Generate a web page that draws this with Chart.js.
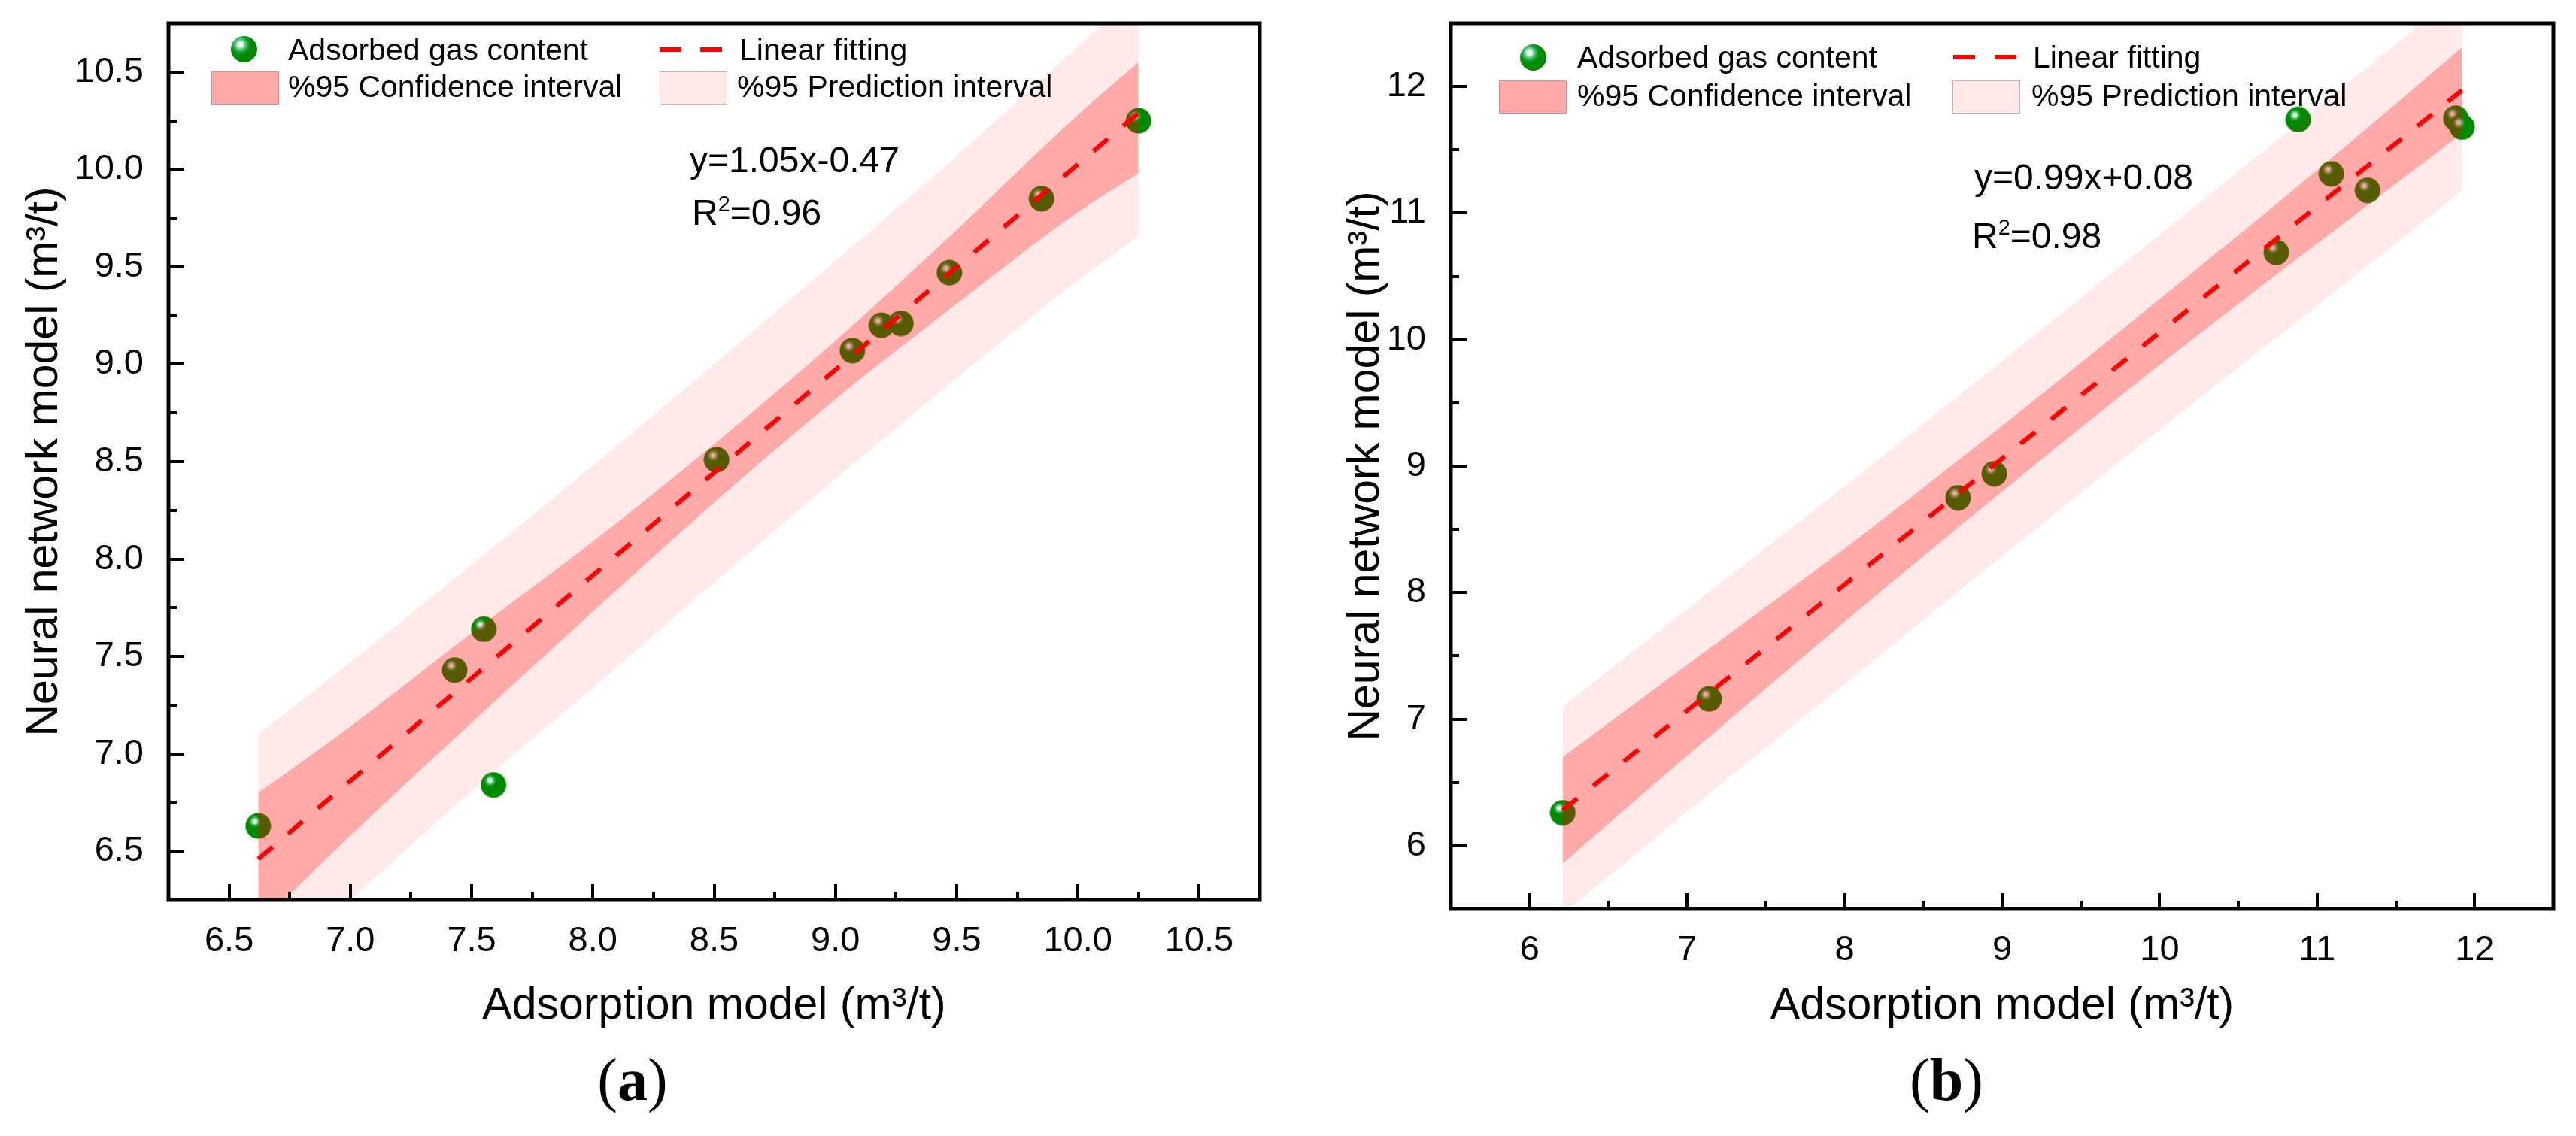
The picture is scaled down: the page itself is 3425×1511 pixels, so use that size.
<!DOCTYPE html>
<html>
<head>
<meta charset="utf-8">
<title>Adsorption model vs neural network model</title>
<script src="https://cdn.jsdelivr.net/npm/chart.js@4.4.1/dist/chart.umd.min.js"></script>
<style>
  html, body { margin: 0; padding: 0; background: #fff; }
  #page { position: relative; width: 3425px; height: 1511px; overflow: hidden;
          font-family: 'Liberation Sans', Arial, sans-serif; color: #000; }
  canvas { position: absolute; top: 0; }
  .txt { position: absolute; white-space: nowrap; line-height: 1; }
  .leg { font-size: 41px; }
  .eq { font-size: 48px; }
  .eq sup { font-size: 60%; vertical-align: 0.62em; line-height: 0; }
  .ball { position: absolute; width: 35px; height: 35px; border-radius: 50%;
          background: radial-gradient(circle at 36% 32%, #fff 0, #eafff0 9%, #66d08c 19%, #129a2c 33%, #008a00 46%); }
  .dash { position: absolute; width: 29px; height: 6px; background: #ff0000; }
  .swatch { position: absolute; width: 90px; height: 44px; box-sizing: border-box;
            border: 1px solid rgba(190, 120, 120, 0.55); }
  .ci { background: rgb(255, 168, 168); }
  .pi { background: rgb(255, 233, 233); }
  .cap { position: absolute; font-family: 'Liberation Serif', 'Times New Roman', serif;
         font-size: 80px; line-height: 1; transform: translateX(-50%); white-space: nowrap; }
</style>
</head>
<body>
<div id="page">
  <canvas id="chartA" width="1712" height="1400" style="left:0"></canvas>
  <canvas id="chartB" width="1713" height="1400" style="left:1712px"></canvas>

  <!-- legend (a) -->
  <div class="ball" style="left:307px;top:48px"></div>
  <div class="txt leg" style="left:383px;top:46px">Adsorbed gas content</div>
  <div class="dash" style="left:877px;top:63px"></div>
  <div class="dash" style="left:931px;top:63px"></div>
  <div class="txt leg" style="left:983px;top:46px">Linear fitting</div>
  <div class="swatch ci" style="left:281px;top:95px"></div>
  <div class="txt leg" style="left:383px;top:95px">%95 Confidence interval</div>
  <div class="swatch pi" style="left:877px;top:95px"></div>
  <div class="txt leg" style="left:980px;top:95px">%95 Prediction interval</div>
  <div class="txt eq" style="left:917px;top:189px">y=1.05x-0.47</div>
  <div class="txt eq" style="left:920px;top:259px">R<sup>2</sup>=0.96</div>

  <!-- legend (b) -->
  <div class="ball" style="left:2021px;top:59px"></div>
  <div class="txt leg" style="left:2097px;top:56px">Adsorbed gas content</div>
  <div class="dash" style="left:2597px;top:73px"></div>
  <div class="dash" style="left:2652px;top:73px"></div>
  <div class="txt leg" style="left:2703px;top:56px">Linear fitting</div>
  <div class="swatch ci" style="left:1993px;top:107px"></div>
  <div class="txt leg" style="left:2097px;top:107px">%95 Confidence interval</div>
  <div class="swatch pi" style="left:2596px;top:107px"></div>
  <div class="txt leg" style="left:2701px;top:107px">%95 Prediction interval</div>
  <div class="txt eq" style="left:2625px;top:212px">y=0.99x+0.08</div>
  <div class="txt eq" style="left:2622px;top:290px">R<sup>2</sup>=0.98</div>

  <div class="cap" style="left:841px;top:1396px">(<b>a</b>)</div>
  <div class="cap" style="left:2588px;top:1396px">(<b>b</b>)</div>
</div>

<script>
// (a) 数据
const adsX_a = [6.62, 7.43, 7.55, 7.59, 8.51, 9.07, 9.19, 9.27, 9.47, 9.85, 10.25];
const nnY_a = [6.63, 7.43, 7.64, 6.84, 8.51, 9.07, 9.20, 9.21, 9.47, 9.85, 10.25];
const fitX_a = [6.62, 10.25];
const fitY_a = [6.46, 10.29];
const bandX_a = [6.62, 7.0, 7.5, 8.0, 8.5, 9.0, 9.5, 10.0, 10.25];
const ciUp_a = [6.80, 7.14, 7.62, 8.09, 8.59, 9.12, 9.69, 10.28, 10.55];
const ciLow_a = [6.12, 6.58, 7.16, 7.73, 8.29, 8.82, 9.31, 9.78, 9.98];
const piUp_a = [7.10, 7.47, 7.97, 8.48, 9.00, 9.53, 10.07, 10.63, 10.92];
const piLow_a = [5.82, 6.25, 6.81, 7.34, 7.88, 8.41, 8.93, 9.43, 9.66];
const ticks_a = [6.5, 7.0, 7.5, 8.0, 8.5, 9.0, 9.5, 10.0, 10.5];
const minor_a = [6.75, 7.25, 7.75, 8.25, 8.75, 9.25, 9.75, 10.25];

// (b) 数据
const adsX_b = [6.21, 7.14, 8.72, 8.95, 10.74, 10.88, 11.09, 11.32, 11.88, 11.92];
const nnY_b = [6.26, 7.16, 8.75, 8.94, 10.69, 11.74, 11.31, 11.18, 11.75, 11.68];
const fitX_b = [6.21, 11.92];
const fitY_b = [6.28, 11.97];
const bandX_b = [6.21, 7.0, 8.0, 9.0, 10.0, 11.0, 11.92];
const ciUp_b = [6.70, 7.43, 8.35, 9.32, 10.32, 11.34, 12.31];
const ciLow_b = [5.86, 6.71, 7.77, 8.80, 9.80, 10.76, 11.63];
const piUp_b = [7.10, 7.87, 8.84, 9.83, 10.83, 11.83, 12.76];
const piLow_b = [5.46, 6.27, 7.28, 8.29, 9.29, 10.27, 11.18];
const ticks_b = [6, 7, 8, 9, 10, 11, 12];
const minor_b = [6.5, 7.5, 8.5, 9.5, 10.5, 11.5];

const xTitle = 'Adsorption model (m³/t)';
const yTitle = 'Neural network model (m³/t)';
const FONT = 'Liberation Sans';

// 绿色小球
function makeBall(d) {
    const c = document.createElement('canvas');
    c.width = c.height = d;
    const g = c.getContext('2d');
    const r = d / 2;
    g.fillStyle = '#008a00';
    g.beginPath();
    g.arc(r, r, r - 0.5, 0, Math.PI * 2);
    g.fill();
    const hx = r - d * 0.13, hy = r - d * 0.17;
    const grad = g.createRadialGradient(hx, hy, 0, hx, hy, d * 0.27);
    grad.addColorStop(0, '#ffffff');
    grad.addColorStop(0.2, '#eafff0');
    grad.addColorStop(0.45, '#62cf8a');
    grad.addColorStop(1, 'rgba(0,138,0,0)');
    g.fillStyle = grad;
    g.beginPath();
    g.arc(r, r, r - 0.5, 0, Math.PI * 2);
    g.fill();
    return c;
}

// 边框 + 向内刻度
const frameTicks = {
    id: 'frameTicks',
    afterDatasetsDraw(chart, args, opts) {
        const { ctx, chartArea: area, scales: { x, y } } = chart;
        ctx.save();
        ctx.strokeStyle = '#000';
        ctx.lineWidth = 4;
        ctx.beginPath();
        const xTick = (v, len) => {
            const px = Math.round(x.getPixelForValue(v));
            ctx.moveTo(px, area.bottom);
            ctx.lineTo(px, area.bottom - len);
        };
        const yTick = (v, len) => {
            const py = Math.round(y.getPixelForValue(v));
            ctx.moveTo(area.left, py);
            ctx.lineTo(area.left + len, py);
        };
        opts.major.forEach(v => { xTick(v, 21); yTick(v, 21); });
        opts.minor.forEach(v => { xTick(v, 11); yTick(v, 11); });
        ctx.stroke();
        ctx.lineWidth = 5;
        ctx.strokeRect(area.left, area.top, area.right - area.left, area.bottom - area.top);
        ctx.restore();
    }
};

function buildChart(id, d) {
    const ctx = document.getElementById(id).getContext('2d');
    const xy = (xs, ys) => xs.map((v, i) => ({ x: v, y: ys[i] }));
    const band = { borderColor: 'transparent', borderWidth: 0, pointRadius: 0, cubicInterpolationMode: 'monotone' };
    const tickFont = { family: FONT, size: 47 };
    const titleFont = { family: FONT, size: 59, lineHeight: 1 };
    const noPad = s => { s.paddingLeft = s.paddingRight = s.paddingTop = s.paddingBottom = 0; };

    return new Chart(ctx, {
        type: 'line',
        data: {
            datasets: [
                { ...band, data: xy(d.bandX, d.piUp), fill: '+1', backgroundColor: 'rgba(255,0,0,0.085)', order: 2 },
                { ...band, data: xy(d.bandX, d.piLow), fill: false, order: 2 },
                { ...band, data: xy(d.bandX, d.ciUp), fill: '+1', backgroundColor: 'rgba(255,0,0,0.28)', order: 1 },
                { ...band, data: xy(d.bandX, d.ciLow), fill: false, order: 1 },
                {
                    data: xy(d.fitX, d.fitY), borderColor: '#ff0000', borderWidth: 6,
                    borderDash: [25, 27], pointRadius: 0, fill: false, order: 0
                },
                {
                    data: xy(d.x, d.y), showLine: false, pointStyle: makeBall(35),
                    pointRadius: 17, order: 3
                }
            ]
        },
        options: {
            responsive: false,
            animation: false,
            devicePixelRatio: 1,
            layout: { autoPadding: false, padding: { left: 0, top: 31, right: d.padRight, bottom: 0 } },
            plugins: {
                legend: { display: false },
                tooltip: { enabled: false },
                frameTicks: { major: d.ticks, minor: d.minor }
            },
            scales: {
                x: {
                    type: 'linear', min: d.min, max: d.max,
                    grid: { display: false }, border: { display: false },
                    afterBuildTicks: s => { s.ticks = d.ticks.map(v => ({ value: v })); },
                    afterFit: s => { s.height = d.xAxisH; noPad(s); },
                    ticks: { font: tickFont, color: '#000', padding: 19, maxRotation: 0, autoSkip: false, callback: d.fmt },
                    title: { display: true, text: xTitle, font: titleFont, color: '#000', padding: { top: 0, bottom: 32 } }
                },
                y: {
                    type: 'linear', min: d.min, max: d.max,
                    grid: { display: false }, border: { display: false },
                    afterBuildTicks: s => { s.ticks = d.ticks.map(v => ({ value: v })); },
                    afterFit: s => { s.width = d.yAxisW; noPad(s); },
                    ticks: { font: tickFont, color: '#000', padding: 25, autoSkip: false, callback: d.fmt },
                    title: { display: true, text: yTitle, font: titleFont, color: '#000', padding: { top: d.yTitlePad, bottom: 0 } }
                }
            }
        },
        plugins: [frameTicks]
    });
}

document.addEventListener('DOMContentLoaded', () => {
    buildChart('chartA', {
        x: adsX_a, y: nnY_a, fitX: fitX_a, fitY: fitY_a, bandX: bandX_a,
        ciUp: ciUp_a, ciLow: ciLow_a, piUp: piUp_a, piLow: piLow_a,
        ticks: ticks_a, minor: minor_a, min: 6.25, max: 10.75,
        fmt: v => Number(v).toFixed(1),
        yAxisW: 224, xAxisH: 203, padRight: 37, yTitlePad: 30
    });
    buildChart('chartB', {
        x: adsX_b, y: nnY_b, fitX: fitX_b, fitY: fitY_b, bandX: bandX_b,
        ciUp: ciUp_b, ciLow: ciLow_b, piUp: piUp_b, piLow: piLow_b,
        ticks: ticks_b, minor: minor_b, min: 5.5, max: 12.5,
        fmt: v => String(v),
        yAxisW: 217, xAxisH: 191, padRight: 30, yTitlePad: 75
    });
});
</script>
</body>
</html>
